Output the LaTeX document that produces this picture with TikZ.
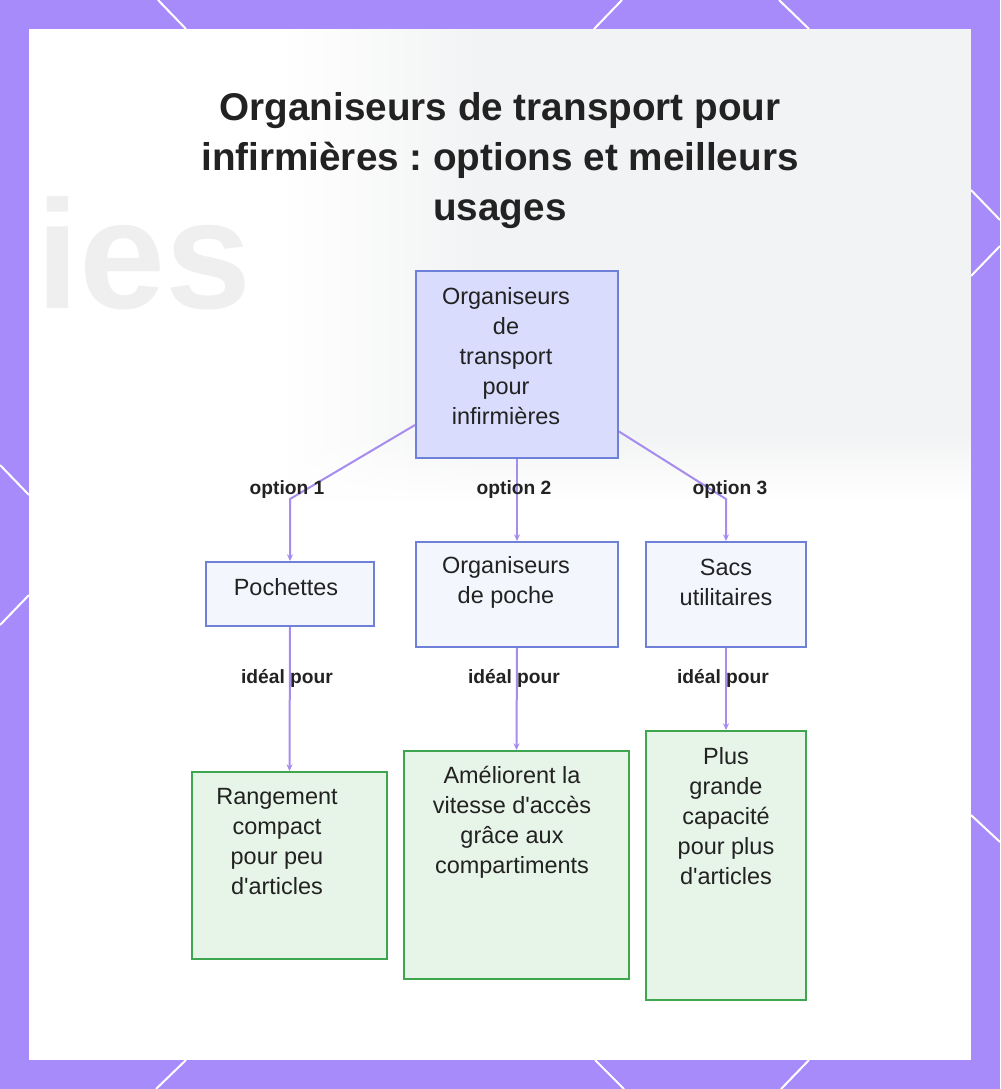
\documentclass[tikz,border=0pt]{standalone}
\usepackage{fontspec}
\setmainfont{Liberation Sans}
\usetikzlibrary{arrows.meta,calc,fadings}
\definecolor{bgpurple}{HTML}{A78BFA}
\definecolor{connpurple}{HTML}{A58CEE}
\definecolor{blueedge}{HTML}{6F80D9}
\definecolor{rootfill}{HTML}{D9DCFC}
\definecolor{lvlfill}{HTML}{F4F6FE}
\definecolor{greenedge}{HTML}{3EA64E}
\definecolor{greenfill}{HTML}{E7F4E8}
\definecolor{txt}{HTML}{222222}
\definecolor{faint}{HTML}{F2F3F4}
\definecolor{faintword}{HTML}{EFEFEF}
\newcommand{\apos}{\textquotesingle}
\tikzfading[name=fadedown, top color=transparent!0, bottom color=transparent!100]
\tikzset{
  border line/.style={white, line width=1.5pt},
  bluebox/.style={draw=blueedge, line width=1.5pt, rectangle, inner sep=0pt},
  greenbox/.style={draw=greenedge, fill=greenfill, line width=1.5pt, rectangle, inner sep=0pt},
  boxtext/.style={align=center, text=txt, font=\fontsize{17.6}{22.5}\selectfont, inner sep=0pt},
  edgelabel/.style={text=txt, font=\bfseries\fontsize{14.4}{17}\selectfont, inner sep=0pt},
  conn/.style={connpurple, line width=1.5pt, -{Stealth[length=5pt,width=4.5pt]}},
  bgletters/.style={text=faintword, font=\bfseries\fontsize{116}{116}\selectfont, anchor=base west, inner sep=0pt},
}
\begin{document}
\frenchspacing
\begin{tikzpicture}[x=0.75pt,y=-0.75pt]
\useasboundingbox (0,0) rectangle (1000,1089);
% frame
\fill[bgpurple] (0,0) rectangle (1000,1089);
\fill[white] (29,29) rectangle (971,1060);
% faint blurred background
\shade[left color=white, right color=faint] (280,29) rectangle (480,430);
\fill[faint] (480,29) rectangle (971,430);
\shade[left color=white, right color=faint, path fading=fadedown] (280,430) rectangle (480,500);
\fill[faint, path fading=fadedown] (480,430) rectangle (971,500);
\node[bgletters] (bgword) at (36,308) {ies};
% border diagonals
\draw[border line] (158,0) -- (186,29);
\draw[border line] (622,0) -- (594,29);
\draw[border line] (779,0) -- (809,29);
\draw[border line] (186,1060) -- (156,1089);
\draw[border line] (595,1060) -- (624,1089);
\draw[border line] (809,1060) -- (781,1089);
\draw[border line] (0,465) -- (29,495);
\draw[border line] (0,625) -- (29,595);
\draw[border line] (971,190) -- (1000,220);
\draw[border line] (971,276) -- (1000,246);
\draw[border line] (971,815) -- (1000,842);
% title
\node[align=center, text=txt, font=\bfseries\fontsize{29}{37.5}\selectfont] (title) at (500,161)
  {Organiseurs de transport pour\\infirmières : options et meilleurs\\usages};
% boxes
\node[bluebox, fill=rootfill, minimum width=151.5pt, minimum height=140.25pt] (root) at (517,364.5) {};
\node[boxtext] (roottxt) at (506,356) {Organiseurs\\de\\transport\\pour\\infirmières};
\node[bluebox, fill=lvlfill, minimum width=126pt, minimum height=48pt] (poch) at (290,594) {};
\node[boxtext] (pochtxt) at (286,587) {Pochettes};
\node[bluebox, fill=lvlfill, minimum width=151.5pt, minimum height=78.75pt] (orgp) at (517,594.5) {};
\node[boxtext] (orgptxt) at (506,582) {Organiseurs\\de poche};
\node[bluebox, fill=lvlfill, minimum width=120pt, minimum height=78.75pt] (sacs) at (726,594.5) {};
\node[boxtext] (sacstxt) at (726,582) {Sacs\\utilitaires};
\node[greenbox, minimum width=146.25pt, minimum height=140.25pt] (rang) at (289.5,865.5) {};
\node[boxtext] (rangtxt) at (277,842) {Rangement\\compact\\pour peu\\d\apos articles};
\node[greenbox, minimum width=168.75pt, minimum height=171pt] (amel) at (516.5,865) {};
\node[boxtext] (ameltxt) at (512,822) {Améliorent la\\vitesse d\apos accès\\grâce aux\\compartiments};
\node[greenbox, minimum width=120pt, minimum height=201.75pt] (plus) at (726,865.5) {};
\node[boxtext] (plustxt) at (726,816) {Plus\\grande\\capacité\\pour plus\\d\apos articles};
% connectors
\coordinate (b1) at (290,499);
\coordinate (b3) at (726,499);
\draw[conn] ($(root.west)+(0,60.5)$) -- (b1) -- (poch.north);
\draw[conn] (root.south) -- (orgp.north);
\draw[conn] ($(root.east)+(0,67)$) -- (b3) -- (sacs.north);
\draw[conn] (poch.south) -- (rang.north);
\draw[conn] (orgp.south) -- (amel.north);
\draw[conn] (sacs.south) -- (plus.north);
% labels
\node[edgelabel] (l1) at (287,490) {option 1};
\node[edgelabel] (l2) at (514,490) {option 2};
\node[edgelabel] (l3) at (730,490) {option 3};
\node[edgelabel] (l4) at (287,678) {idéal pour};
\node[edgelabel] (l5) at (514,678) {idéal pour};
\node[edgelabel] (l6) at (723,678) {idéal pour};
\end{tikzpicture}
\end{document}
